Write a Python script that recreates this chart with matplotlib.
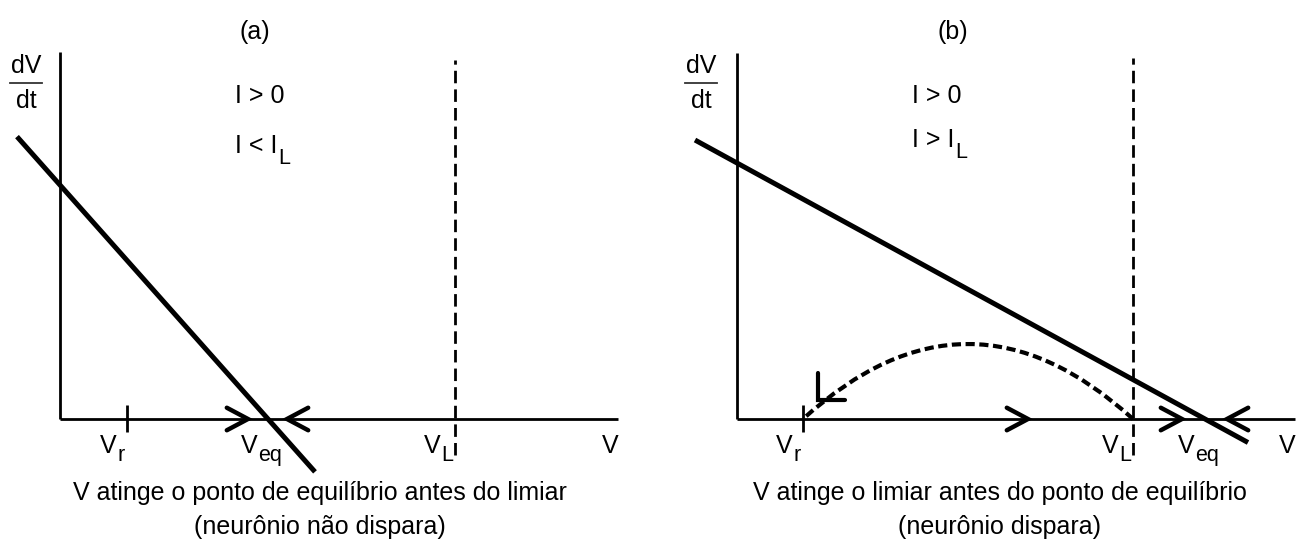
import matplotlib
matplotlib.use("Agg")
import matplotlib.pyplot as plt
import numpy as np
from matplotlib.path import Path
from matplotlib.patches import PathPatch

plt.rcParams["font.family"] = ["Liberation Sans", "DejaVu Sans"]

FS = 18
SUB_FS = 15.5

# schematic values (arbitrary units, origin at the axes crossing)
panels = ["(a)", "(b)"]
axis_len = [558, 558]          # length of the V axis
axis_top = [367, 366]          # height of the dV/dt axis
v_r = [67, 66]                 # reset potential
v_eq = [208, 468]              # equilibrium potential
v_L = [395, 396]               # threshold
dvdt_at_0 = [234, 256]         # dV/dt where V = 0
line_span = [(-43, 255), (-42, 511)]
thresh_span = [(-36, 359), (-36, 361)]
arrows_right = [[188], [291, 445]]
arrows_left = [[227], [490]]
conditions = [("I > 0", "I < I", "L"), ("I > 0", "I > I", "L")]
captions = ["V atinge o ponto de equilíbrio antes do limiar\n(neurônio não dispara)",
            "V atinge o limiar antes do ponto de equilíbrio\n(neurônio dispara)"]

# reset trajectory in (b): threshold -> reset, arc height
reset_apex = 75
reset_head = (81, 19)

# where each panel's origin sits in the figure (pixels)
origin_px = [(60, 419), (737, 419)]
W, H = 1300, 556


def chevron(ax, x, y, angle, size=24, spread=28, lw=3.2):
    th = np.radians(angle)
    a1 = th + np.pi + np.radians(spread)
    a2 = th + np.pi - np.radians(spread)
    xs = [x + size * np.cos(a1), x, x + size * np.cos(a2)]
    ys = [y + size * np.sin(a1), y, y + size * np.sin(a2)]
    ax.plot(xs, ys, color="k", lw=lw, solid_capstyle="round",
            solid_joinstyle="miter", zorder=4)


def sub_text(ax, x, y, base, sub, ha="center", drop=-3):
    t = ax.text(x, y, base, fontsize=FS, ha=ha, va="baseline")
    ax.annotate(sub, xy=(1, 0), xycoords=t, xytext=(1, drop),
                textcoords="offset pixels", fontsize=SUB_FS, ha="left", va="baseline")
    return t


fig = plt.figure(figsize=(W / 100, H / 100), dpi=100)

for i in range(2):
    ox, oy = origin_px[i]
    left = 0.0 if i == 0 else 0.5
    ax = fig.add_axes([left, 0, 0.5, 1])
    x0 = left * W
    ax.set_xlim(x0 - ox, x0 + W / 2 - ox)
    ax.set_ylim(oy - H, oy)
    ax.set_aspect("equal")
    ax.axis("off")

    # axes
    ax.plot([0, axis_len[i]], [0, 0], color="k", lw=2.0, solid_capstyle="butt")
    ax.plot([0, 0], [0, axis_top[i]], color="k", lw=2.0, solid_capstyle="butt")

    # reset tick
    ax.plot([v_r[i], v_r[i]], [-13, 14], color="k", lw=2.0, solid_capstyle="butt")

    # threshold
    ax.plot([v_L[i], v_L[i]], list(thresh_span[i]), color="k", lw=2.0,
            ls=(0, (4.5, 2.2)), dash_capstyle="butt")

    # dV/dt line
    slope = -dvdt_at_0[i] / v_eq[i]
    xs = np.array(line_span[i])
    ax.plot(xs, dvdt_at_0[i] + slope * xs, color="k", lw=3.6,
            solid_capstyle="butt", zorder=3)

    # flow direction on the V axis
    for xa in arrows_right[i]:
        chevron(ax, xa, 0, 0)
    for xa in arrows_left[i]:
        chevron(ax, xa, 0, 180)

    # axis labels
    sub_text(ax, v_r[i] - 19, -34, "V", "r")
    sub_text(ax, v_eq[i] - 19, -34, "V", "eq")
    sub_text(ax, v_L[i] - 23, -34, "V", "L")
    ax.text(axis_len[i] - 8, -34, "V", fontsize=FS, ha="center", va="baseline")

    fx = -34 if i == 0 else -36
    ax.text(fx, 346, "dV", fontsize=FS, ha="center", va="baseline")
    ax.plot([fx - 16, fx + 16], [336, 336], color="#333333", lw=1.3)
    ax.text(fx, 311, "dt", fontsize=FS, ha="center", va="baseline")

    ax.text(195 if i == 0 else 216, 387, panels[i], fontsize=FS, ha="center", va="center")
    c0, c1, c_sub = conditions[i]
    ax.text(175, 316, c0, fontsize=FS, ha="left", va="baseline")
    sub_text(ax, 175, 266 if i == 0 else 272, c1, c_sub, ha="left", drop=-6)

    ax.text(260 if i == 0 else 263, -91, captions[i], fontsize=FS, ha="center",
            va="center", linespacing=1.55)

    if i == 1:
        # return of V from threshold to reset
        mid = (v_L[i] + v_r[i]) / 2
        path = Path([(v_L[i], 0), (mid, 2 * reset_apex), (v_r[i], 0)],
                    [Path.MOVETO, Path.CURVE3, Path.CURVE3])
        ax.add_patch(PathPatch(path, facecolor="none", edgecolor="k", lw=3.0,
                               ls=(0, (2.2, 1.1)), zorder=3))
        chevron(ax, reset_head[0], reset_head[1], 225, size=27, spread=45, lw=3.0)

fig.savefig("out.png", dpi=100)
